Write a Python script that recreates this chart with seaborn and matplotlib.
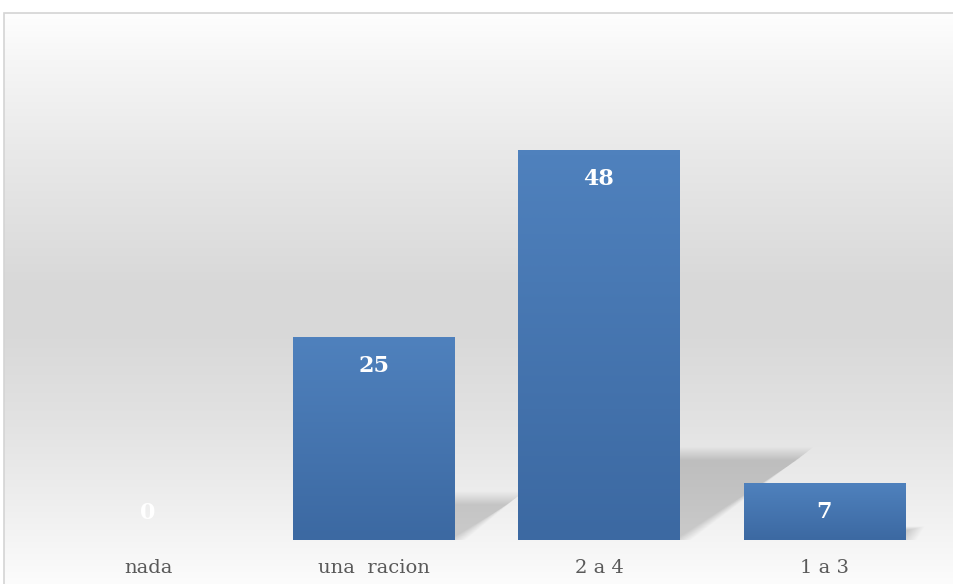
import numpy as np
import matplotlib
matplotlib.use("Agg")
import matplotlib.pyplot as plt
import seaborn as sns
import pandas as pd
from matplotlib.patches import Polygon, Rectangle
from matplotlib.colors import LinearSegmentedColormap, to_rgb

categories = ["nada", "una  racion", "2 a 4", "1 a 3"]
values = [0, 25, 48, 7]

W, H = 954, 584
fig = plt.figure(figsize=(W / 100, H / 100), dpi=100)
fig.patch.set_facecolor("white")

# ---- chart-area background gradient ----
frame_top = 13
bg = fig.add_axes([4 / W, 0, (W - 4) / W, (H - frame_top) / H])
stops_px = [13, 60, 150, 280, 330, 420, 500, 584]
stops_col = ["#fefefe", "#f6f6f6", "#e9e9e9", "#d9d9d9", "#d8d8d8", "#e2e2e2", "#eeeeee", "#fcfcfc"]
ys = np.arange(frame_top, H)
grad = np.zeros((len(ys), 1, 3))
cols = np.array([to_rgb(c) for c in stops_col])
for k in range(3):
    grad[:, 0, k] = np.interp(ys, stops_px, cols[:, k])
bg.imshow(grad, aspect="auto", extent=[0, 1, 0, 1], interpolation="bilinear")
bg.set_axis_off()
fig.add_artist(Rectangle((4 / W, -0.1), 1.2, 1.1 - frame_top / H, transform=fig.transFigure,
                         fill=False, edgecolor="#d4d4d4", lw=1.2))

# ---- main axes ----
left_px, right_px, base_px, top_px = 35.25, 937.25, 540, 52.5
ax = fig.add_axes([left_px / W, (H - base_px) / H, (right_px - left_px) / W, (base_px - top_px) / H])
ax.patch.set_alpha(0)
df = pd.DataFrame({"cat": categories, "val": values})
sns.barplot(data=df, x="cat", y="val", ax=ax, width=0.714, color="#4a7ab5", saturation=1, zorder=3)
ax.set_ylim(0, 60)
ax.set_xlim(-0.5, 3.5)

# soft perspective shadows
for i, v in enumerate(values):
    if v <= 0:
        continue
    x0, x1 = i - 0.357, i + 0.357
    h = v * 0.2385
    dx = v / 48 * 0.594
    n = 14
    for j in range(n):
        s = j / (n - 1)
        ins_x = 0.07 * s
        ins_y = 1.6 * s * min(1.0, h / 6)
        poly = Polygon([(x0 + ins_x, 0), (x1 - ins_x + 0.05, 0),
                        (x1 + dx - ins_x, max(h - ins_y, 0.3)), (x0 + dx + ins_x, max(h - ins_y, 0.3))],
                       closed=True, facecolor="black", edgecolor="none", alpha=0.013, zorder=2)
        ax.add_patch(poly)

# bar gradients
cmap = LinearSegmentedColormap.from_list("bar", ["#3c69a2", "#4f81bd"])
for p in list(ax.patches):
    if not isinstance(p, Rectangle) or p.get_zorder() != 3:
        continue
    x, y, w, hh = p.get_x(), p.get_y(), p.get_width(), p.get_height()
    if hh <= 0:
        continue
    g = np.linspace(1, 0, 64).reshape(-1, 1)
    im = ax.imshow(g, cmap=cmap, aspect="auto", extent=[x, x + w, y, y + hh], zorder=4,
                   interpolation="bilinear", vmin=0, vmax=1)
    im.set_clip_path(p)
ax.set_xlim(-0.5, 3.5)
ax.set_ylim(0, 60)

# value labels
for i, v in enumerate(values):
    off = -21 if v > 0 else 19.5
    ax.annotate(str(v), (i, v), xytext=(0, off), textcoords="offset points", ha="center", va="center",
                color="white", fontweight="bold", fontsize=16, family="DejaVu Serif", zorder=6)

ax.set_xticks(range(len(categories)))
ax.set_xticklabels(categories, family="DejaVu Serif", fontsize=14, color="#595959")
ax.tick_params(axis="x", length=0, pad=14)
ax.set_yticks([])
ax.set_xlabel("")
ax.set_ylabel("")
for s in ax.spines.values():
    s.set_visible(False)

fig.savefig("out.png", dpi=100)
